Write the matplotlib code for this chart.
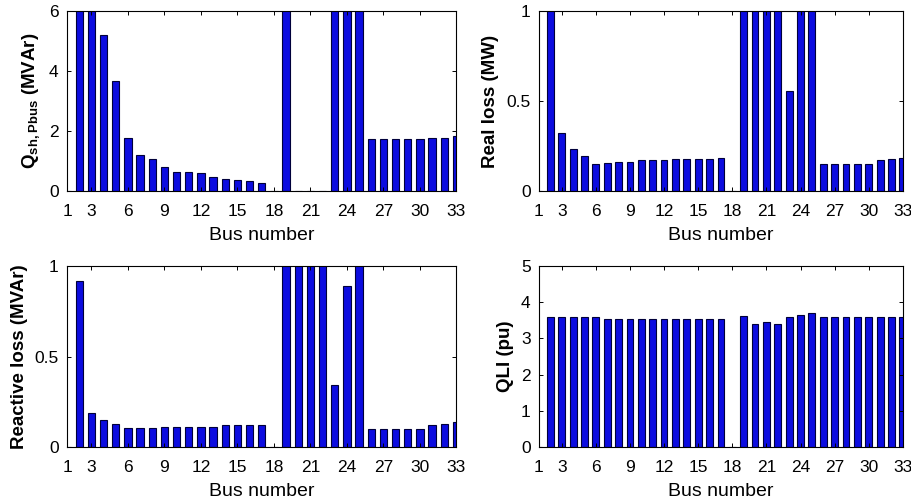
#!/usr/bin/env python3
"""Four-panel bar chart: shunt Q, real loss, reactive loss and QLI per bus."""

import matplotlib
matplotlib.use("Agg")
import matplotlib.pyplot as plt
import numpy as np

plt.rcParams["font.family"] = ["Liberation Sans", "DejaVu Sans"]
plt.rcParams["mathtext.fontset"] = "custom"
plt.rcParams["mathtext.rm"] = "Liberation Sans"
plt.rcParams["mathtext.bf"] = "Liberation Sans:bold"

# bus numbers 1..33 (bus 1 is the slack bus, no value)
buses = np.arange(1, 34)

# values; bars that run past the top of an axis are
# given a value above the limit (they are clipped like in the original)
q_sh = [0, 8, 8, 5.2, 3.66, 1.77, 1.19, 1.06, 0.80, 0.63, 0.63, 0.60, 0.47,
        0.41, 0.38, 0.35, 0.26, 0, 8, 0, 0, 0, 8, 8, 8, 1.75, 1.75, 1.75,
        1.75, 1.75, 1.78, 1.78, 1.83]
real_loss = [0, 1.5, 0.32, 0.236, 0.195, 0.152, 0.158, 0.163, 0.163, 0.17,
             0.17, 0.17, 0.176, 0.176, 0.176, 0.176, 0.185, 0, 1.5, 1.5, 1.5,
             1.5, 0.555, 1.5, 1.5, 0.152, 0.152, 0.152, 0.152, 0.152, 0.17,
             0.178, 0.185]
reactive_loss = [0, 0.915, 0.19, 0.147, 0.129, 0.105, 0.105, 0.105, 0.11,
                 0.11, 0.11, 0.11, 0.11, 0.12, 0.12, 0.12, 0.12, 0, 1.5, 1.5,
                 1.5, 1.5, 0.345, 0.888, 1.5, 0.098, 0.098, 0.098, 0.098,
                 0.098, 0.12, 0.127, 0.14]
qli = [0, 3.59, 3.59, 3.59, 3.59, 3.59, 3.55, 3.55, 3.55, 3.55, 3.55, 3.55,
       3.55, 3.55, 3.55, 3.55, 3.55, 0, 3.61, 3.41, 3.46, 3.41, 3.59, 3.66,
       3.70, 3.59, 3.59, 3.59, 3.59, 3.59, 3.59, 3.59, 3.59]

xticks = [1, 3, 6, 9, 12, 15, 18, 21, 24, 27, 30, 33]

panels = [
    (q_sh, r"$\mathbf{Q_{sh,Pbus}}$ (MVAr)", 6, [0, 2, 4, 6], ["0", "2", "4", "6"],
     [0.0735, 0.621, 0.427, 0.357]),
    (real_loss, "Real loss (MW)", 1, [0, 0.5, 1], ["0", "0.5", "1"],
     [0.591, 0.621, 0.399, 0.357]),
    (reactive_loss, "Reactive loss (MVAr)", 1, [0, 0.5, 1], ["0", "0.5", "1"],
     [0.0735, 0.113, 0.427, 0.359]),
    (qli, "QLI (pu)", 5, [0, 1, 2, 3, 4, 5], ["0", "1", "2", "3", "4", "5"],
     [0.591, 0.113, 0.399, 0.359]),
]

fig = plt.figure(figsize=(9.12, 5.04), dpi=100)

for values, ylabel, ymax, yticks, ylabels, rect in panels:
    ax = fig.add_axes(rect)
    ax.bar(buses, values, width=0.6, color="#0c0ce0", edgecolor="#00003a",
           linewidth=0.8)
    ax.set_xlim(1, 33)
    ax.set_ylim(0, ymax)
    ax.set_xticks(xticks)
    ax.set_yticks(yticks)
    ax.set_yticklabels(ylabels)
    ax.tick_params(direction="in", top=True, right=True, labelsize=12.5,
                   length=3, width=0.7)
    ax.tick_params(axis="x", pad=9)
    ax.tick_params(axis="y", pad=6)
    ax.set_xlabel("Bus number", fontsize=14, labelpad=6)
    ax.set_ylabel(ylabel, fontsize=13.5, fontweight="bold", labelpad=5)
    for spine in ax.spines.values():
        spine.set_linewidth(0.8)

fig.savefig("out.png", dpi=100)
